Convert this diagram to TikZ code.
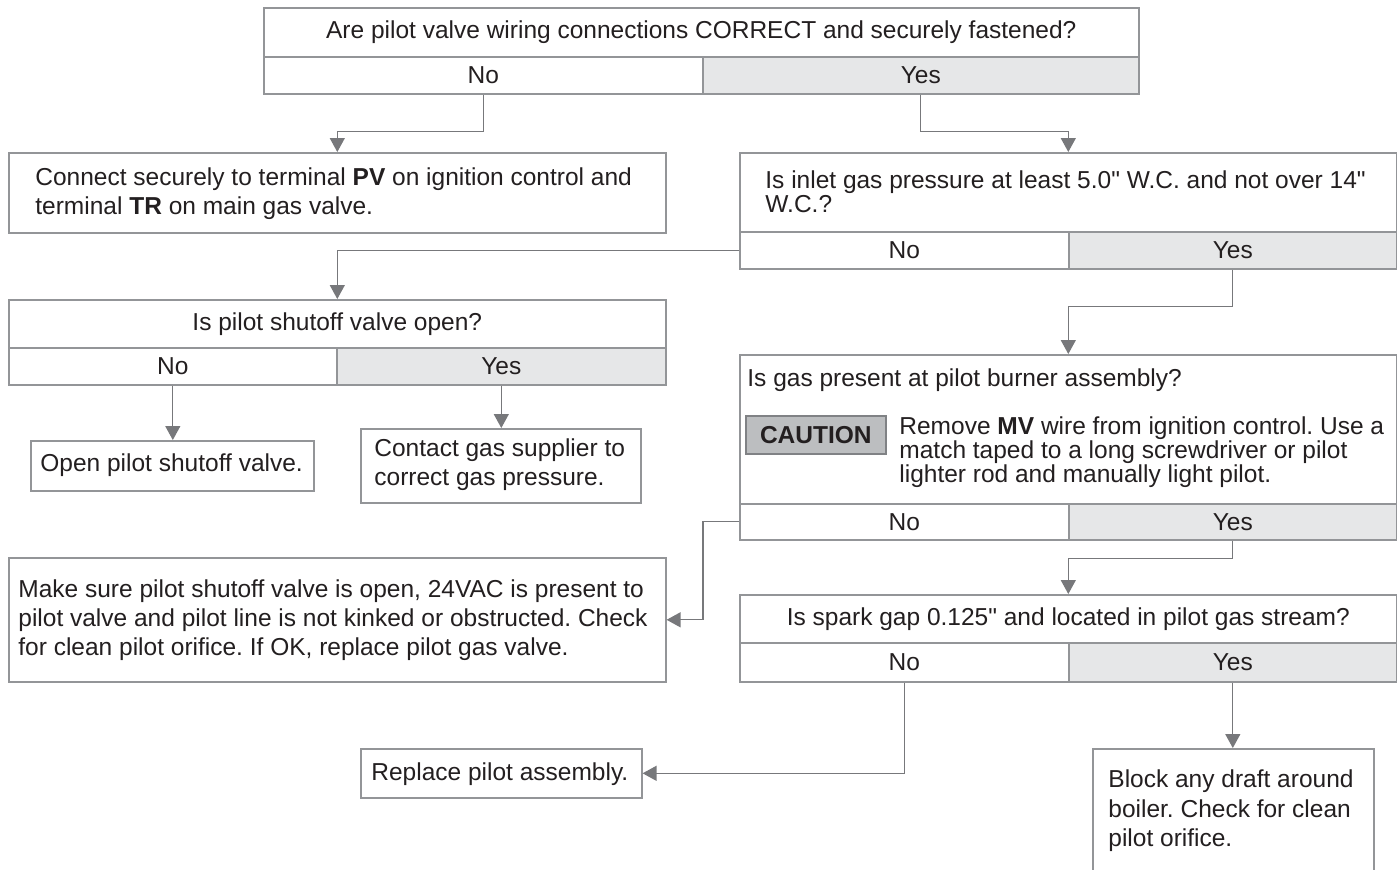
\documentclass[tikz,border=0pt]{standalone}
\usepackage{fontspec}
\setmainfont{Liberation Sans}[Ligatures=TeXOff]
\usetikzlibrary{arrows.meta}
\definecolor{tc}{HTML}{231F20}
\definecolor{lc}{HTML}{939598}
\definecolor{ac}{HTML}{77787B}
\definecolor{shade}{HTML}{E6E7E8}
\definecolor{badge}{HTML}{BCBEC0}
\definecolor{badgeline}{HTML}{808285}
\frenchspacing
\begin{document}
\frenchspacing
\begin{tikzpicture}[x=0.5pt,y=-0.5pt,
  font=\fontsize{12.25}{14.5}\selectfont\frenchspacing,
  cell/.style={draw=lc, line width=0.8pt, inner sep=0pt, anchor=north west, text=tc, align=center},
  yescell/.style={cell, fill=shade},
  txt/.style={inner sep=0pt, text=tc, align=left, anchor=west},
  tight/.style={font=\fontsize{12.25}{12}\selectfont\frenchspacing},
  badgebox/.style={draw=badgeline, fill=badge, line width=0.8pt, inner sep=0pt, anchor=north west, text=tc, font=\fontsize{12.25}{14.5}\selectfont\bfseries},
  conn/.style={draw=ac, line width=0.65pt, -{Triangle[length=7pt,width=7.5pt]}},
]
\clip (0,0) rectangle (1397,869);
\fill[white] (0,0) rectangle (1397,869);

% A
\node[cell, minimum width=437.5pt, minimum height=24.5pt] (Aq) at (263,7) {Are pilot valve wiring connections CORRECT and securely fastened?};
\node[cell, minimum width=219.5pt, minimum height=18.5pt] (An) at (263,56) {No};
\node[yescell, minimum width=218pt, minimum height=18.5pt] (Ay) at (702,56) {Yes};

% B
\node[cell, minimum width=328.5pt, minimum height=40pt] (B) at (8,152) {};
\node[txt] (Bt) at (35,194) {Connect securely to terminal {\bfseries PV} on ignition control and\\terminal {\bfseries TR} on main gas valve.};

% C
\node[cell, minimum width=328.5pt, minimum height=39.5pt] (Cq) at (739,152) {};
\node[txt, tight] (Ct) at (765,192) {Is inlet gas pressure at least 5.0" W.C. and not over 14"\\W.C.?};
\node[cell, minimum width=164.5pt, minimum height=18.5pt] (Cn) at (739,231) {No};
\node[yescell, minimum width=164pt, minimum height=18.5pt] (Cy) at (1068,231) {Yes};

% D
\node[cell, minimum width=328.5pt, minimum height=24pt] (Dq) at (8,299) {Is pilot shutoff valve open?};
\node[cell, minimum width=164pt, minimum height=18.5pt] (Dn) at (8,347) {No};
\node[yescell, minimum width=164.5pt, minimum height=18.5pt] (Dy) at (336,347) {Yes};

% E, F
\node[cell, minimum width=141.5pt, minimum height=25pt] (E) at (30,440) {};
\node[txt] (Et) at (40,465) {Open pilot shutoff valve.};
\node[cell, minimum width=140pt, minimum height=37pt] (F) at (360,428) {};
\node[txt] (Ft) at (374,465) {Contact gas supplier to\\correct gas pressure.};

% G
\node[cell, minimum width=328.5pt, minimum height=74.5pt] (Gq) at (739,354) {};
\node[txt] (Gt) at (747,380) {Is gas present at pilot burner assembly?};
\node[badgebox, minimum width=70pt, minimum height=19pt] (Gb) at (745,415) {CAUTION};
\node[txt, tight] (Gc) at (899,452) {Remove {\bfseries MV} wire from ignition control. Use a\\match taped to a long screwdriver or pilot\\lighter rod and manually light pilot.};
\node[cell, minimum width=164.5pt, minimum height=18pt] (Gn) at (739,503) {No};
\node[yescell, minimum width=164pt, minimum height=18pt] (Gy) at (1068,503) {Yes};

% H
\node[cell, minimum width=328.5pt, minimum height=62pt] (H) at (8,557) {};
\node[txt] (Ht) at (18,620) {Make sure pilot shutoff valve is open, 24VAC is present to\\pilot valve and pilot line is not kinked or obstructed. Check\\for clean pilot orifice. If OK, replace pilot gas valve.};

% I
\node[cell, minimum width=328.5pt, minimum height=24pt] (Iq) at (739,594) {Is spark gap 0.125" and located in pilot gas stream?};
\node[cell, minimum width=164.5pt, minimum height=19.5pt] (In) at (739,642) {No};
\node[yescell, minimum width=164pt, minimum height=19.5pt] (Iy) at (1068,642) {Yes};

% J, K
\node[cell, minimum width=140.5pt, minimum height=24.5pt] (J) at (360,748) {};
\node[txt] (Jt) at (371,774) {Replace pilot assembly.};
\node[cell, minimum width=140.5pt, minimum height=70pt] (K) at (1092,748) {};
\node[txt, font=\fontsize{12.25}{14.75}\selectfont\frenchspacing] (Kt) at (1108,811) {Block any draft around\\boiler. Check for clean\\pilot orifice.};

% connectors
\draw[conn] (An.south) -- ++(0,37) -| (B.north);
\draw[conn] (Ay.south) -- ++(0,37) -| (Cq.north);
\draw[conn] (Cn.west) -| (Dq.north);
\draw[conn] (Cy.south) -- ++(0,37) -| (Gq.north);
\draw[conn] (Dn.south) -- (Dn.south |- E.north);
\draw[conn] (Dy.south) -- (Dy.south |- F.north);
\draw[conn] (Gn.west) -- ++(-36,0) |- (H.east);
\draw[conn] (Gy.south) -- ++(0,18) -| (Iq.north);
\draw[conn] (In.south) |- (J.east);
\draw[conn] (Iy.south) -- (Iy.south |- K.north);
\end{tikzpicture}
\end{document}
